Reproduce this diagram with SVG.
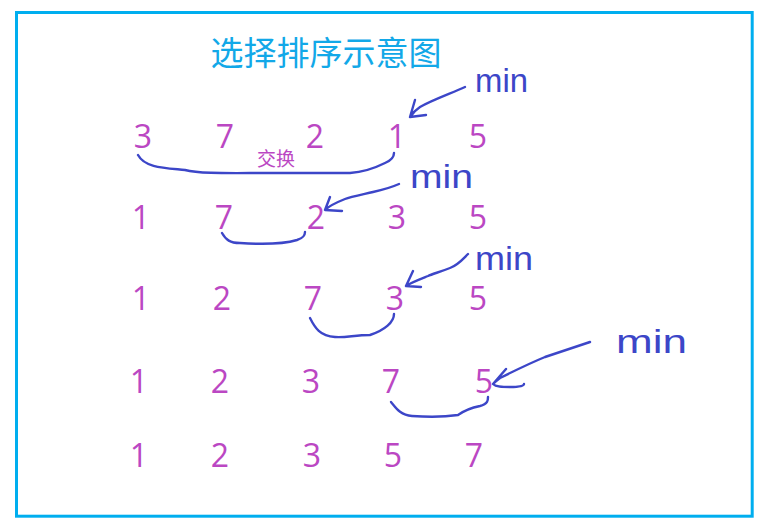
<svg xmlns="http://www.w3.org/2000/svg" width="769" height="531" viewBox="0 0 769 531">
<style>
.num{font-family:"Open Sans","Noto Sans",sans-serif;font-size:32px;fill:#bb47c3;text-anchor:middle}
.ink{fill:none;stroke:#3c46c8;stroke-width:2.4;stroke-linecap:round;stroke-linejoin:round}
.min{font-family:"Liberation Sans",sans-serif;font-size:34px;fill:#3c46c8}
</style>
<rect x="16.5" y="12.5" width="735.7" height="503.7" fill="#fff" stroke="#00aeef" stroke-width="3"/>
<g id="title"><text x="326" y="65" font-family="Noto Sans CJK SC, sans-serif" font-size="33" fill="#12a8e8" text-anchor="middle">选择排序示意图</text></g>
<g id="row1">
<text class="num" x="143" y="148">3</text><text class="num" x="225" y="148">7</text><text class="num" x="315" y="148">2</text><text class="num" x="397" y="148">1</text><text class="num" x="478" y="148">5</text>
</g>
<g id="swap-label"><text x="276" y="166" font-family="Noto Sans CJK SC, sans-serif" font-size="19" fill="#bb47c3" text-anchor="middle">交换</text></g>
<g id="row2">
<text class="num" x="141" y="229">1</text><text class="num" x="224" y="229">7</text><text class="num" x="316" y="229">2</text><text class="num" x="397" y="229">3</text><text class="num" x="478" y="229">5</text>
</g>
<g id="row3">
<text class="num" x="141" y="310">1</text><text class="num" x="222" y="310">2</text><text class="num" x="313" y="310">7</text><text class="num" x="395" y="310">3</text><text class="num" x="478" y="310">5</text>
</g>
<g id="row4">
<text class="num" x="139" y="393">1</text><text class="num" x="220" y="393">2</text><text class="num" x="311" y="393">3</text><text class="num" x="391" y="393">7</text><text class="num" x="484" y="393">5</text>
</g>
<g id="row5">
<text class="num" x="139" y="467">1</text><text class="num" x="220" y="467">2</text><text class="num" x="312" y="467">3</text><text class="num" x="393" y="467">5</text><text class="num" x="474" y="467">7</text>
</g>
<g id="min-labels">
<text class="min" x="475" y="92" textLength="53" lengthAdjust="spacingAndGlyphs">min</text>
<text class="min" x="410" y="188" textLength="63" lengthAdjust="spacingAndGlyphs">min</text>
<text class="min" x="475" y="270" textLength="58" lengthAdjust="spacingAndGlyphs">min</text>
<text class="min" x="616" y="353" textLength="71" lengthAdjust="spacingAndGlyphs" font-size="36">min</text>
</g>
<g id="connectors">
<path class="ink" d="M465,87 C452,93 432,100 420,107 C414,111 412,114 410,117 M415,100 L410,117 L426,115"/>
<path class="ink" d="M399,184 C390,188 382,190 373,192 C360,195 350,197 345,199 C335,203 328,207 325,210 M330,197 L325,210 L342,211"/>
<path class="ink" d="M468,254 C462,260 458,265 450,268 C440,272 432,274 428,276 C418,280 410,283 406,286 M413,271 L406,286 L421,287"/>
<path class="ink" d="M590,342 C575,347 560,352 545,357 C528,364 512,372 500,378 C496,381 494,383 493,384 M506,369 L493,384 C496,387 502,387 510,387 C520,387 524,386 524,384"/>
<path class="ink" d="M138,155 C145,168 165,168 185,170 C200,174 230,173 270,173 L350,173 C365,172 375,168 385,163 C392,160 394,157 394,153"/>
<path class="ink" d="M222,233 C226,240 230,243 240,243 C255,244 280,245 297,240 C303,238 305,236 305,232"/>
<path class="ink" d="M310,318 C315,328 320,336 335,337 C345,338 355,335 370,335 C385,330 394,322 394,314"/>
<path class="ink" d="M391,402 C396,408 400,415 412,416 C425,417 445,417 458,415 C465,410 470,408 480,406 C488,404 488,400 488,397"/>
</g>
</svg>
